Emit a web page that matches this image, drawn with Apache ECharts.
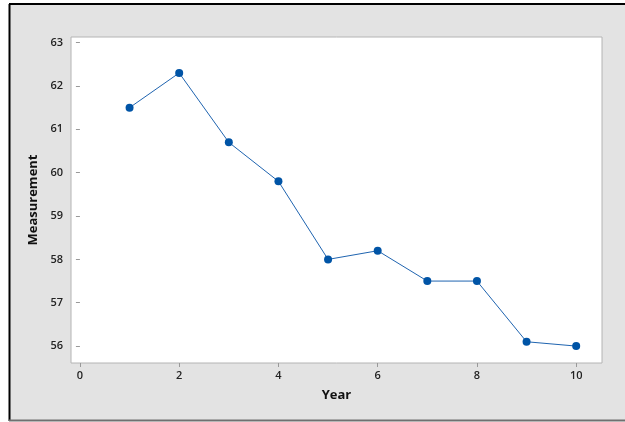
<!DOCTYPE html>
<html>
<head>
<meta charset="utf-8">
<script src="https://cdn.jsdelivr.net/npm/echarts@6/dist/echarts.min.js"></script>
<style>
html,body{margin:0;padding:0;background:#ffffff;}
#c{width:625px;height:422px;}
</style>
</head>
<body>
<div id="c"></div>
<script>
const years = [1, 2, 3, 4, 5, 6, 7, 8, 9, 10];
const measurement = [61.5, 62.3, 60.7, 59.8, 58.0, 58.2, 57.5, 57.5, 56.1, 56.0];
const xTicks = [0, 2, 4, 6, 8, 10];
const yTicks = [56, 57, 58, 59, 60, 61, 62, 63];

const chart = echarts.init(document.getElementById('c'));
const font = '"Open Sans", "Noto Sans", sans-serif';
chart.setOption({
  animation: false,
  backgroundColor: '#ffffff',
  graphic: [
    { type: 'rect', z: -10, shape: { x: 10, y: 5, width: 620, height: 415 }, style: { fill: '#e3e3e3' } },
    { type: 'line', z: -5, shape: { x1: 9, y1: 4, x2: 625, y2: 4 }, style: { stroke: '#000', lineWidth: 2 } },
    { type: 'line', z: -5, shape: { x1: 9.5, y1: 4, x2: 9.5, y2: 421 }, style: { stroke: '#000', lineWidth: 2 } },
    { type: 'line', z: -5, shape: { x1: 9, y1: 420.5, x2: 625, y2: 420.5 }, style: { stroke: '#707070', lineWidth: 2 } }
  ],
  grid: {
    left: 71, top: 37, width: 531, height: 326,
    show: true, backgroundColor: '#ffffff', borderColor: '#b4b4b4', borderWidth: 1
  },
  xAxis: {
    type: 'value', min: -0.18, max: 10.52,
    name: 'Year', nameLocation: 'middle', nameGap: 26,
    nameTextStyle: { fontFamily: font, fontSize: 13, fontWeight: 'bold', color: '#111' },
    axisLine: { show: false },
    splitLine: { show: false },
    axisTick: { show: true, length: 4, customValues: xTicks, lineStyle: { color: '#999999' } },
    axisLabel: { customValues: xTicks, margin: 7, fontFamily: font, fontSize: 11, fontWeight: 600, color: '#222' }
  },
  yAxis: {
    type: 'value', min: 55.61, max: 63.13,
    name: 'Measurement', nameLocation: 'middle', nameGap: 25,
    nameTextStyle: { fontFamily: font, fontSize: 13, fontWeight: 'bold', color: '#111' },
    axisLine: { show: false },
    splitLine: { show: false },
    axisTick: { show: true, length: 4, customValues: yTicks, lineStyle: { color: '#999999' } },
    axisLabel: { customValues: yTicks, margin: 8, fontFamily: font, fontSize: 11, fontWeight: 600, color: '#222' }
  },
  series: [{
    type: 'line',
    data: years.map((y, i) => [y, measurement[i]]),
    symbol: 'circle', symbolSize: 8,
    itemStyle: { color: '#0054a6' },
    lineStyle: { color: '#1f64b0', width: 1 }
  }]
});
</script>
</body>
</html>
